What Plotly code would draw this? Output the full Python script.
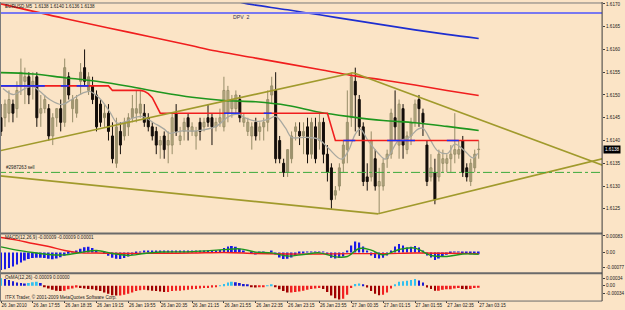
import plotly.graph_objects as go

# ---------------- data ----------------
bars = list(range(121))
opens = [1.6145,1.6145,1.6146,1.6148,1.6147,1.6152,1.6153,1.6154,1.6152,1.6154,
         1.6146,1.6147,1.6147,1.6141,1.6145,1.6147,1.6144,1.6154,1.6147,1.6146,
         1.6153,1.6156,1.6151,1.6152,1.6150,1.6148,1.6145,1.6146,1.6141,1.6135,
         1.6142,1.6141,1.6143,1.6145,1.6146,1.6146,1.6146,1.6145,1.6143,1.6142,
         1.6139,1.6141,1.6139,1.6139,1.6146,1.6140,1.6142,1.6145,1.6142,1.6141,
         1.6144,1.6143,1.6145,1.6145,1.6143,1.6144,1.6143,1.6146,1.6147,1.6147,
         1.6149,1.6144,1.6142,1.6141,1.6144,1.6142,1.6143,1.6144,1.6150,1.6151,
         1.6140,1.6135,1.6133,1.6136,1.6142,1.6142,1.6141,1.6143,1.6137,1.6143,
         1.6140,1.6144,1.6137,1.6134,1.6128,1.6130,1.6135,1.6138,1.6145,1.6153,
         1.6149,1.6143,1.6132,1.6132,1.6136,1.6130,1.6130,1.6136,1.6137,1.6145,
         1.6139,1.6147,1.6138,1.6141,1.6144,1.6149,1.6146,1.6139,1.6132,1.6133,
         1.6132,1.6135,1.6135,1.6136,1.6137,1.6137,1.6140,1.6134,1.6131,1.6134,
         1.6138]
highs = [1.6148,1.6149,1.6151,1.6149,1.6153,1.6158,1.6156,1.6155,1.6155,1.6155,
         1.6150,1.6150,1.6148,1.6146,1.6147,1.6149,1.6158,1.6155,1.6150,1.6150,
         1.6157,1.6160,1.6155,1.6154,1.6151,1.6149,1.6148,1.6148,1.6144,1.6145,
         1.6144,1.6145,1.6146,1.6150,1.6151,1.6151,1.6148,1.6146,1.6144,1.6143,
         1.6141,1.6142,1.6142,1.6146,1.6148,1.6143,1.6145,1.6146,1.6144,1.6143,
         1.6145,1.6145,1.6148,1.6146,1.6145,1.6147,1.6154,1.6152,1.6150,1.6151,
         1.6150,1.6146,1.6145,1.6144,1.6145,1.6144,1.6145,1.6151,1.6154,1.6155,
         1.6141,1.6136,1.6138,1.6142,1.6144,1.6144,1.6144,1.6145,1.6145,1.6145,
         1.6146,1.6145,1.6139,1.6135,1.6130,1.6135,1.6140,1.6151,1.6155,1.6156,
         1.6150,1.6144,1.6135,1.6142,1.6138,1.6134,1.6136,1.6138,1.6147,1.6151,
         1.6149,1.6148,1.6142,1.6145,1.6149,1.6150,1.6147,1.6140,1.6137,1.6136,
         1.6138,1.6138,1.6137,1.6139,1.6146,1.6140,1.6141,1.6135,1.6136,1.6138,
         1.6140]
lows = [1.6141,1.6143,1.6144,1.6144,1.6145,1.6150,1.6148,1.6148,1.6149,1.6143,
        1.6143,1.6146,1.6140,1.6139,1.6143,1.6142,1.6143,1.6149,1.6144,1.6145,
        1.6150,1.6152,1.6150,1.6148,1.6142,1.6143,1.6143,1.6140,1.6135,1.6134,
        1.6137,1.6140,1.6141,1.6144,1.6144,1.6145,1.6143,1.6142,1.6140,1.6137,
        1.6136,1.6136,1.6135,1.6137,1.6141,1.6139,1.6140,1.6140,1.6141,1.6138,
        1.6140,1.6142,1.6143,1.6139,1.6142,1.6143,1.6142,1.6144,1.6145,1.6146,
        1.6144,1.6143,1.6141,1.6138,1.6140,1.6140,1.6140,1.6142,1.6148,1.6135,
        1.6135,1.6132,1.6132,1.6135,1.6140,1.6139,1.6137,1.6135,1.6136,1.6135,
        1.6138,1.6135,1.6131,1.6125,1.6127,1.6129,1.6133,1.6135,1.6143,1.6142,
        1.6141,1.6130,1.6129,1.6131,1.6129,1.6124,1.6129,1.6134,1.6136,1.6140,
        1.6136,1.6136,1.6137,1.6139,1.6143,1.6143,1.6141,1.6130,1.6131,1.6126,
        1.6131,1.6133,1.6133,1.6133,1.6135,1.6136,1.6132,1.6131,1.6130,1.6133,
        1.6136]
closes = [1.6142,1.6148,1.6149,1.6146,1.6151,1.6155,1.6154,1.6150,1.6153,1.6145,
          1.6147,1.6149,1.6141,1.6145,1.6147,1.6144,1.6156,1.6150,1.6149,1.6149,
          1.6155,1.6153,1.6154,1.6149,1.6143,1.6144,1.6146,1.6142,1.6136,1.6143,
          1.6139,1.6144,1.6145,1.6147,1.6147,1.6148,1.6144,1.6143,1.6141,1.6139,
          1.6140,1.6138,1.6140,1.6145,1.6142,1.6141,1.6144,1.6143,1.6143,1.6142,
          1.6142,1.6144,1.6144,1.6143,1.6144,1.6145,1.6151,1.6151,1.6149,1.6150,
          1.6145,1.6145,1.6144,1.6143,1.6141,1.6143,1.6144,1.6149,1.6152,1.6136,
          1.6136,1.6133,1.6138,1.6141,1.6143,1.6141,1.6142,1.6137,1.6144,1.6136,
          1.6144,1.6137,1.6133,1.6127,1.6129,1.6134,1.6139,1.6144,1.6154,1.6150,
          1.6143,1.6131,1.6131,1.6140,1.6130,1.6131,1.6135,1.6137,1.6146,1.6143,
          1.6148,1.6139,1.6141,1.6144,1.6148,1.6147,1.6144,1.6131,1.6134,1.6127,
          1.6137,1.6136,1.6136,1.6137,1.6138,1.6138,1.6133,1.6132,1.6135,1.6137,
          1.6138]

# moving averages read at sampled bars
ma_blue_bars = [60, 62, 72, 80, 88, 96, 104, 112, 120]
ma_blue_vals = [1.61704, 1.61700, 1.61687, 1.61676, 1.61665, 1.61654, 1.61643, 1.61633, 1.61624]
ma_red_bars = [0, 16, 32, 48, 52, 64, 80, 88, 96, 104, 112, 120]
ma_red_vals = [1.61700, 1.61668, 1.61638, 1.61608, 1.61600, 1.61581, 1.61556, 1.61543,
               1.61533, 1.61522, 1.61510, 1.61499]
ma_green_bars = [0, 8, 16, 24, 32, 40, 48, 56, 64, 72, 80, 88, 96, 104, 112, 120]
ma_green_vals = [1.61549, 1.61546, 1.61538, 1.61530, 1.61519, 1.61506, 1.61495, 1.61488,
                 1.61485, 1.61477, 1.61462, 1.61452, 1.61444, 1.61439, 1.61431, 1.61422]
fast_bars = [0.5, 3, 6, 8, 9.75, 12.25, 15.25, 17.75, 20.25, 22.25, 24.75, 27.25, 29.25,
             31.5, 33, 35.5, 38.5, 41, 42.25, 45.5, 49, 54, 57.25, 59.75, 61.5, 64.75,
             67.25, 69, 71.5, 73, 76.5, 79.75, 82.25, 85.5, 87.25, 89, 90.25, 92.25,
             94.75, 96.5, 97.75, 99.75, 102.25, 104.75, 106, 108, 109.75, 112.25, 114,
             116.5, 118.5, 119.75]
fast_vals = [1.61514, 1.61501, 1.61514, 1.61519, 1.61508, 1.61490, 1.61479, 1.61490,
             1.61503, 1.61508, 1.61493, 1.61464, 1.61438, 1.61442, 1.61449, 1.61453,
             1.61438, 1.61425, 1.61416, 1.61421, 1.61421, 1.61431, 1.61453, 1.61458,
             1.61449, 1.61442, 1.61447, 1.61453, 1.61427, 1.61407, 1.61407, 1.61403,
             1.61383, 1.61359, 1.61377, 1.61414, 1.61425, 1.61399, 1.61372, 1.61359,
             1.61370, 1.61399, 1.61405, 1.61425, 1.61427, 1.61399, 1.61377, 1.61372,
             1.61392, 1.61377, 1.61362, 1.61372]

# trailing level (red) with blue stretches
stop_vals = [1.6152]*28 + [1.6151]*4 + [1.61511, 1.61511, 1.6151, 1.6151, 1.61508,
             1.61503, 1.61494, 1.61476, 1.6146] + [1.6146]*42 + [1.6143] + [1.6140]*37
blue_runs = [(0, 11), (15, 17), (19, 22), (56, 60), (66, 68), (86, 89), (97, 104), (112, 115)]

# trend lines (bar, price)
tl_up_left = [(-1, 1.61376), (88.5, 1.61549)]
tl_up_right = [(88.5, 1.61549), (152, 1.61343)]
tl_lo_left = [(-1, 1.61323), (94.75, 1.61239)]
tl_lo_right = [(94.75, 1.61239), (152, 1.61362)]
sell_level = 1.6133
dpv_level = 1.6168
last_price = 1.6138

# MACD pane
macd_hist = [-88,-84,-78,-70,-60,-50,-40,-33,-28,-26,-26,-28,-32,-34,-30,-24,-16,-6,2,10,
             18,26,28,22,10,0,-8,-16,-26,-32,-33,-28,-20,-12,-5,2,6,8,8,8,
             8,6,6,8,8,6,6,8,8,6,6,8,10,8,8,12,22,30,32,28,
             18,8,0,-6,-10,-8,-6,0,6,-10,-25,-33,-32,-25,-15,-6,-2,4,4,3,
             4,2,-10,-26,-30,-28,-20,5,35,55,50,30,10,-15,-28,-30,-26,-15,10,30,
             42,35,25,28,32,25,10,-15,-25,-38,-30,-22,-12,-6,2,4,-3,-8,-9,-9,-9]
macd_green_bars = [0, 4, 8, 12, 16, 20, 24, 28, 32, 36, 40, 48, 56, 60, 64, 68, 72, 76,
                   80, 84, 87, 90, 93, 96, 100, 104, 108, 112, 116, 120]
macd_green_vals = [28, 12, 0, -10, -12, 0, 10, -5, -15, -5, 2, 4, 14, 18, 2, -2, -18, -10,
                   -2, -22, -20, 20, 12, -12, 15, 22, -15, -20, -8, -9]
macd_red_bars = [0, 4, 8, 12, 16, 20, 24, 32, 40, 48, 56, 64, 72, 80, 88, 96, 104, 112, 120]
macd_red_vals = [75, 62, 45, 30, 10, -2, -3, -5, -4, -3, 0, -5, -8, -8, -6, -6, -3, -4, -6]

# OsMA pane
osma = [34,30,26,20,14,12,10,12,16,18,12,-4,-12,-18,-22,-24,-22,-16,-12,-8,
        -10,-12,-14,-16,-20,-24,-30,-36,-42,-44,-44,-40,-36,-30,-24,-20,-18,-20,-22,-24,
        -26,-28,-28,-24,-22,-22,-20,-18,-16,-14,-12,-10,-10,-8,-4,2,8,14,18,16,
        12,8,4,-4,-8,-6,-4,2,6,-6,-16,-24,-30,-30,-28,-26,-22,-18,-14,-12,
        -10,-14,-28,-44,-56,-62,-58,-40,-10,8,10,6,-8,-24,-36,-42,-40,-30,-12,6,
        18,20,22,26,30,24,14,-8,-14,-22,-22,-18,-16,-16,-12,-10,-14,-16,-14,-10,-9]

time_labels = ["26 Jan 2010", "26 Jan 17:55", "26 Jan 18:35", "26 Jan 19:15", "26 Jan 19:55",
               "26 Jan 20:35", "26 Jan 21:15", "26 Jan 21:55", "26 Jan 22:35", "26 Jan 23:15",
               "26 Jan 23:55", "27 Jan 00:35", "27 Jan 01:15", "27 Jan 01:55", "27 Jan 02:35",
               "27 Jan 03:15"]
label_bars = list(range(0, 121, 8))
price_ticks = [1.6125, 1.6130, 1.6135, 1.6140, 1.6145, 1.6150, 1.6155, 1.6160, 1.6165, 1.6170]

# ---------------- styling ----------------
W, H = 625, 310
BG = "#FBE4C6"
FONT = "Liberation Sans, Arial, sans-serif"
FS = 4.6
XR = 605 / W
BULL_LINE, BULL_FILL = "#968C68", "#EEDFB0"
BEAR = "#140E0A"


def py(px):
    return 1 - px / H


E = 1e-5
fig = go.Figure()

# candle wicks
for up, col in ((True, BULL_LINE), (False, BEAR)):
    wx, wy = [], []
    for i in bars:
        if (closes[i] >= opens[i]) == up:
            wx += [i, i, None]
            wy += [lows[i], highs[i], None]
    fig.add_trace(go.Scatter(x=wx, y=wy, mode="lines", line=dict(color=col, width=1),
                             hoverinfo="skip"))
# candle bodies
for up, fill, edge in ((True, BULL_FILL, BULL_LINE), (False, BEAR, BEAR)):
    idx = [i for i in bars if (closes[i] >= opens[i]) == up]
    fig.add_trace(go.Bar(
        x=idx,
        y=[max(abs(closes[i] - opens[i]), 0.000012) for i in idx],
        base=[min(opens[i], closes[i]) for i in idx],
        width=0.5, marker=dict(color=fill, line=dict(color=edge, width=1)),
        hoverinfo="skip"))

# MAs
fig.add_trace(go.Scatter(x=ma_red_bars, y=ma_red_vals, mode="lines",
                         line=dict(color="#F01E1E", width=1.6, shape="spline")))
fig.add_trace(go.Scatter(x=ma_blue_bars, y=ma_blue_vals, mode="lines",
                         line=dict(color="#1E2ED0", width=1.6, shape="spline")))
fig.add_trace(go.Scatter(x=ma_green_bars, y=ma_green_vals, mode="lines",
                         line=dict(color="#1E961E", width=1.6, shape="spline")))
fig.add_trace(go.Scatter(x=fast_bars, y=fast_vals, mode="lines",
                         line=dict(color="#A8A8A0", width=1.3, shape="spline")))

# trailing level
fig.add_trace(go.Scatter(x=bars, y=stop_vals, mode="lines",
                         line=dict(color="#F01E1E", width=1.6)))
for a, b in blue_runs:
    fig.add_trace(go.Scatter(x=bars[a:b + 1], y=stop_vals[a:b + 1], mode="lines",
                             line=dict(color="#2030F0", width=1.6)))

# trend lines
for seg in (tl_up_left, tl_up_right, tl_lo_left, tl_lo_right):
    fig.add_trace(go.Scatter(x=[seg[0][0], seg[1][0]], y=[seg[0][1], seg[1][1]],
                             mode="lines", line=dict(color="#A09A2C", width=1.6)))

# horizontal levels
fig.add_trace(go.Scatter(x=[-1, 152], y=[sell_level, sell_level], mode="lines",
                         line=dict(color="#3CAA3C", width=1, dash="dashdot")))
fig.add_trace(go.Scatter(x=[-1, 152], y=[dpv_level, dpv_level], mode="lines",
                         line=dict(color="#7878F0", width=2.2)))

# MACD pane
fig.add_trace(go.Bar(x=bars, y=[v * E for v in macd_hist], width=0.45,
                     marker=dict(color="#1A1AE6", line=dict(width=0)),
                     xaxis="x", yaxis="y2"))
fig.add_trace(go.Scatter(x=macd_red_bars, y=[v * E for v in macd_red_vals], mode="lines",
                         line=dict(color="#F01E1E", width=1.4, shape="spline"),
                         xaxis="x", yaxis="y2"))
fig.add_trace(go.Scatter(x=macd_green_bars, y=[v * E for v in macd_green_vals], mode="lines",
                         line=dict(color="#1E961E", width=1.4, shape="spline"),
                         xaxis="x", yaxis="y2"))

# OsMA pane (colour by sign and direction)
osma_cols = []
for i, v in enumerate(osma):
    prev = osma[i - 1] if i > 0 else v
    if v >= 0:
        osma_cols.append("#30C0F0" if v >= prev else "#1A1AD0")
    else:
        osma_cols.append("#A00000" if v < prev else "#F02020")
fig.add_trace(go.Bar(x=bars, y=[v * E for v in osma], width=0.45,
                     marker=dict(color=osma_cols, line=dict(width=0)),
                     xaxis="x", yaxis="y3"))

# ---------------- layout ----------------
tickfont = dict(family=FONT, size=FS, color="#202020")
fig.update_layout(
    width=W, height=H, margin=dict(l=0, r=0, t=0, b=0),
    paper_bgcolor=BG, plot_bgcolor=BG, showlegend=False, barmode="overlay",
    xaxis=dict(domain=[0, XR], range=[-0.25, 151], anchor="y3",
               tickvals=label_bars, ticktext=time_labels, tickfont=tickfont, tickangle=0,
               ticklabelposition="outside right", ticks="outside", ticklen=2,
               tickcolor="#404040", showgrid=False, zeroline=False, showline=False,
               fixedrange=True),
    yaxis=dict(domain=[py(232), py(1)], range=[1.61198, 1.61702], anchor="x", side="right",
               tickvals=price_ticks, ticktext=["%.4f" % v for v in price_ticks],
               tickfont=tickfont, ticks="outside", ticklen=2, tickcolor="#404040",
               showgrid=False, zeroline=False),
    yaxis2=dict(domain=[py(271), py(235)], range=[-0.00094, 0.00085], anchor="x", side="right",
                tickvals=[0.00083, 0, -0.00077], ticktext=["0.00083", "0.00", "-0.00077"],
                tickfont=tickfont, ticks="outside", ticklen=2, tickcolor="#404040",
                showgrid=False, zeroline=False),
    yaxis3=dict(domain=[py(300), py(275)], range=[-0.00064, 0.00047], anchor="x", side="right",
                tickvals=[0.00034, 0, -0.00034], ticktext=["0.00034", "0.00", "-0.00034"],
                tickfont=tickfont, ticks="outside", ticklen=2, tickcolor="#404040",
                showgrid=False, zeroline=False),
)

# frames / separators
shapes = [
    dict(type="line", xref="paper", yref="paper", x0=0, x1=XR, y0=py(1), y1=py(1),
         line=dict(color="#7A7A7A", width=1)),
    dict(type="line", xref="paper", yref="paper", x0=0, x1=XR, y0=py(233), y1=py(233),
         line=dict(color="#6A6A6A", width=2)),
    dict(type="line", xref="paper", yref="paper", x0=0, x1=XR, y0=py(273), y1=py(273),
         line=dict(color="#6A6A6A", width=2)),
    dict(type="line", xref="paper", yref="paper", x0=0, x1=XR, y0=py(301), y1=py(301),
         line=dict(color="#6A6A6A", width=1)),
    dict(type="line", xref="paper", yref="paper", x0=XR, x1=XR, y0=py(301), y1=1,
         line=dict(color="#3A3A3A", width=1)),
    dict(type="line", xref="paper", yref="paper", x0=0.5 / W, x1=0.5 / W, y0=py(301), y1=1,
         line=dict(color="#7A7A7A", width=1)),
]
fig.update_layout(shapes=shapes)

small = dict(family=FONT, size=FS, color="#202020")
ann = [
    dict(text="EURUSD,M5  1.6138 1.6140 1.6136 1.6138", x=3 / W, y=py(5), xref="paper",
         yref="paper", xanchor="left", yanchor="middle", showarrow=False, font=small),
    dict(text="DPV  2", x=232 / W, y=py(15), xref="paper", yref="paper", xanchor="left",
         yanchor="middle", showarrow=False, font=dict(family=FONT, size=5.2, color="#303050")),
    dict(text="#2987263 sell", x=4 / W, y=sell_level, xref="paper", yref="y", xanchor="left",
         yanchor="bottom", showarrow=False, font=small),
    dict(text="MACD(12,26,9) -0.00009 -0.00009 0.00001", x=3 / W, y=py(237), xref="paper",
         yref="paper", xanchor="left", yanchor="middle", showarrow=False, font=small),
    dict(text="OsMA(12,26) -0.00009 0.00000", x=3 / W, y=py(277), xref="paper",
         yref="paper", xanchor="left", yanchor="middle", showarrow=False, font=small),
    dict(text="ITFX Trader, © 2001-2009 MetaQuotes Software Corp.", x=3 / W, y=py(297),
         xref="paper", yref="paper", xanchor="left", yanchor="middle", showarrow=False,
         font=small),
    dict(text="1.6138", x=XR + 1 / W, y=last_price, xref="paper", yref="y", xanchor="left",
         yanchor="middle", showarrow=False, bgcolor="#000000",
         font=dict(family=FONT, size=FS, color="#FFFFFF"), borderpad=1),
]
fig.update_layout(annotations=ann)

fig.write_html("out.html")
